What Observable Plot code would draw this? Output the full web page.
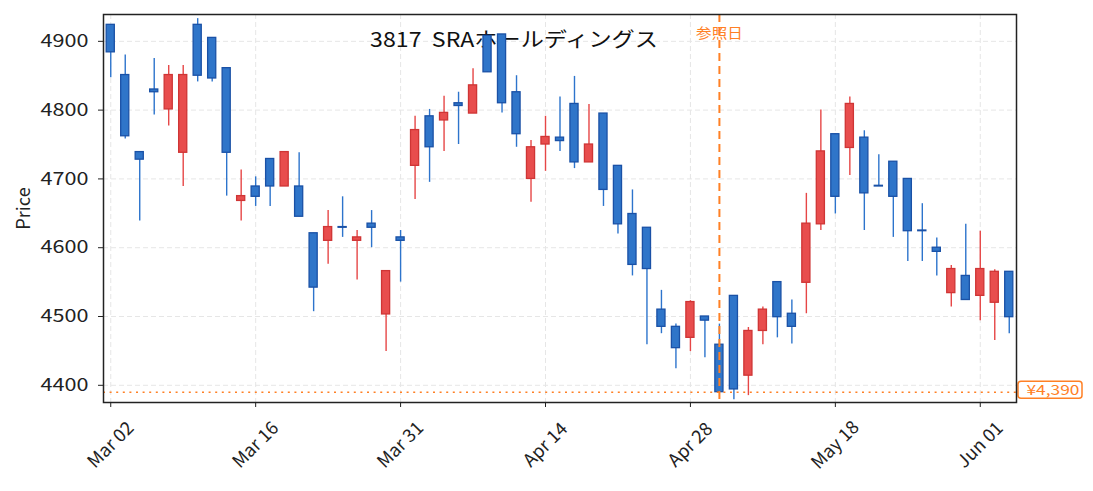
<!DOCTYPE html>
<html>
<head>
<meta charset="utf-8">
<script src="https://cdn.jsdelivr.net/npm/d3@7"></script>
<script src="https://cdn.jsdelivr.net/npm/@observablehq/plot@0.6"></script>
<style>
  html, body { margin: 0; padding: 0; background: #fff; }
</style>
</head>
<body>
<div id="chart"></div>
<script>
// ---- data ----
const dates = ["03-02","03-03","03-04","03-05","03-06","03-09","03-10","03-11","03-12","03-13",
  "03-16","03-17","03-18","03-19","03-23","03-24","03-25","03-26","03-27","03-30",
  "03-31","04-01","04-02","04-03","04-06","04-07","04-08","04-09","04-10","04-13",
  "04-14","04-15","04-16","04-17","04-20","04-21","04-22","04-23","04-24","04-27",
  "04-28","04-30","05-01","05-07","05-08","05-11","05-12","05-13","05-14","05-15",
  "05-18","05-19","05-20","05-21","05-22","05-25","05-26","05-27","05-28","05-29",
  "06-01","06-02","06-03"];
const open  = [4924,4851,4739,4830,4801,4738,4924,4905,4861,4668,4689,4729,4689,4689,4621,4610,4630,4610,4635,4503,
  4615,4719,4791,4785,4810,4795,4908,4910,4826,4700,4750,4760,4809,4724,4795,4719,4649,4629,4510,4485,
  4469,4500,4459,4530,4414,4479,4550,4504,4549,4634,4765,4745,4760,4690,4725,4700,4625,4600,4534,4559,
  4530,4520,4565];
const high  = [4924,4880,4739,4875,4865,4865,4933,4905,4861,4713,4703,4729,4739,4738,4621,4654,4674,4625,4654,4566,
  4625,4791,4801,4820,4826,4860,4908,4910,4850,4756,4791,4819,4849,4808,4795,4719,4684,4629,4538,4489,
  4523,4500,4489,4530,4484,4514,4550,4524,4679,4800,4765,4819,4770,4735,4725,4700,4664,4614,4574,4634,
  4624,4568,4565];
const low   = [4847,4758,4639,4793,4777,4689,4841,4841,4675,4639,4660,4660,4689,4645,4507,4576,4615,4553,4600,4449,
  4550,4670,4695,4740,4750,4795,4855,4796,4746,4666,4711,4740,4715,4724,4660,4620,4559,4459,4475,4424,
  4449,4440,4390,4379,4385,4459,4469,4460,4504,4625,4649,4705,4625,4689,4615,4580,4580,4559,4514,4524,
  4494,4465,4475];
const close = [4884,4762,4728,4826,4851,4851,4850,4846,4738,4675,4674,4689,4739,4645,4542,4630,4629,4615,4629,4566,
  4610,4771,4746,4796,4806,4836,4855,4810,4765,4746,4761,4755,4724,4750,4684,4634,4575,4569,4485,4454,
  4521,4494,4390,4394,4479,4510,4499,4485,4635,4740,4674,4809,4679,4689,4674,4624,4624,4594,4569,4524,
  4569,4565,4499];
const xTickIndex  = [0, 10, 20, 30, 40, 50, 60];
const xTickLabels = ["Mar 02","Mar 16","Mar 31","Apr 14","Apr 28","May 18","Jun 01"];
const yTicks = [4400, 4500, 4600, 4700, 4800, 4900];
const refDate = "05-01";
const refLabel = "参照日";
const refPriceLabel = "¥4,390";
const title = "3817  SRAホールディングス";
const yLabel = "Price";

// ---- derived ----
const idx = dates.map((_, i) => i);
const up = idx.filter(i => close[i] >= open[i]);
const down = idx.filter(i => close[i] < open[i]);
const refIndex = dates.indexOf(refDate);
const refClose = close[refIndex];
const half = 0.28;

const RED_FILL = "#e84d4d", RED_EDGE = "#cf3535", RED_WICK = "#e64646";
const BLUE_FILL = "#2f75c9", BLUE_EDGE = "#1a51a6", BLUE_WICK = "#2d74cc";
const ORANGE = "#ff8025";
const GRID = "#e6e6e6";

const labelBox = (index, scales, values, dimensions) => {
  const y = scales.y(refClose);
  const x0 = dimensions.width - dimensions.marginRight + 2;
  const g = d3.create("svg:g");
  g.append("rect")
    .attr("x", x0).attr("y", y - 10.5)
    .attr("width", 64).attr("height", 17).attr("rx", 3)
    .attr("fill", "white").attr("stroke", ORANGE).attr("stroke-width", 1.5);
  return g.node();
};

const chart = Plot.plot({
  width: 1093,
  height: 491,
  marginLeft: 103,
  marginRight: 77,
  marginTop: 14,
  marginBottom: 89,
  style: {fontFamily: "'Noto Sans CJK JP', 'Noto Sans', sans-serif", fontSize: "18px", background: "white", color: "#222", overflow: "visible"},
  x: {domain: [-0.5, 62.5], axis: null},
  y: {domain: [4375, 4939], axis: null},
  marks: [
    Plot.gridX({ticks: xTickIndex, stroke: GRID, strokeOpacity: 1, strokeWidth: 1, strokeDasharray: "5,3"}),
    Plot.gridY({ticks: yTicks, stroke: GRID, strokeOpacity: 1, strokeWidth: 1, strokeDasharray: "5,3"}),
    Plot.text([title], {frameAnchor: "top-left", dx: 410.5, dy: 25.5, textAnchor: "middle", lineAnchor: "middle", fontSize: 20.5, fill: "#111"}),
    // wicks
    Plot.ruleX(up, {x: i => i, y1: i => low[i], y2: i => high[i], stroke: RED_WICK, strokeWidth: 1.4}),
    Plot.ruleX(down, {x: i => i, y1: i => low[i], y2: i => high[i], stroke: BLUE_WICK, strokeWidth: 1.4}),
    // bodies
    Plot.rect(up, {x1: i => i - half, x2: i => i + half, y1: i => open[i], y2: i => close[i], fill: RED_FILL, stroke: RED_EDGE, strokeWidth: 1.3}),
    Plot.rect(down, {x1: i => i - half, x2: i => i + half, y1: i => open[i], y2: i => close[i], fill: BLUE_FILL, stroke: BLUE_EDGE, strokeWidth: 1.3}),
    // reference lines
    Plot.ruleX([refIndex], {x: d => d, stroke: ORANGE, strokeWidth: 2, strokeDasharray: "8,5"}),
    Plot.ruleY([refClose], {y: d => d, stroke: ORANGE, strokeWidth: 1.6, strokeDasharray: "2,4.6"}),
    Plot.text([refLabel], {x: () => refIndex, frameAnchor: "top", dy: 19.5, lineAnchor: "middle", fontSize: 14, fill: ORANGE}),
    labelBox,
    Plot.text([refPriceLabel], {y: () => refClose, frameAnchor: "right", dx: 10, dy: -2, textAnchor: "start", lineAnchor: "middle", fontSize: 14, fill: ORANGE}),
    // frame & axes
    Plot.frame({stroke: "#222", strokeWidth: 1.5}),
    Plot.axisY({ticks: yTicks, tickSize: 5, tickPadding: 10, tickFormat: d => String(d), fontSize: 18, label: null}),
    Plot.axisX({ticks: xTickIndex, tickSize: 5, tickFormat: () => "", label: null}),
    Plot.text(xTickIndex, {x: d => d, text: (d, i) => xTickLabels[i], frameAnchor: "bottom", dy: 42.5, dx: 0, rotate: -45, textAnchor: "middle", lineAnchor: "middle", fontSize: 18.2, fill: "#222"}),
    Plot.text([yLabel], {frameAnchor: "left", dx: -79, rotate: -90, textAnchor: "middle", lineAnchor: "middle", fontSize: 18.2, fill: "#222"})
  ]
});
document.getElementById("chart").appendChild(chart);

// the reference's font draws some horizontal texts wider than this one does:
// widen those texts about their own anchor point
const stretchFor = s => {
  if (s === title) return 1.13;
  if (s === refLabel) return 1.11;
  if (s === refPriceLabel) return 1.24;
  if (/^\d{4}$/.test(s)) return 1.2;
  return 1;
};
chart.querySelectorAll("text").forEach(t => {
  const k = stretchFor(t.textContent.trim());
  const tr = t.getAttribute("transform") || "";
  if (k === 1 || tr.includes("rotate")) return;
  const x = parseFloat(t.getAttribute("x")) || 0;
  const y = parseFloat(t.getAttribute("y")) || 0;
  t.setAttribute("transform", `${tr} translate(${x},${y}) scale(${k},1) translate(${-x},${-y})`.trim());
});
</script>
</body>
</html>
